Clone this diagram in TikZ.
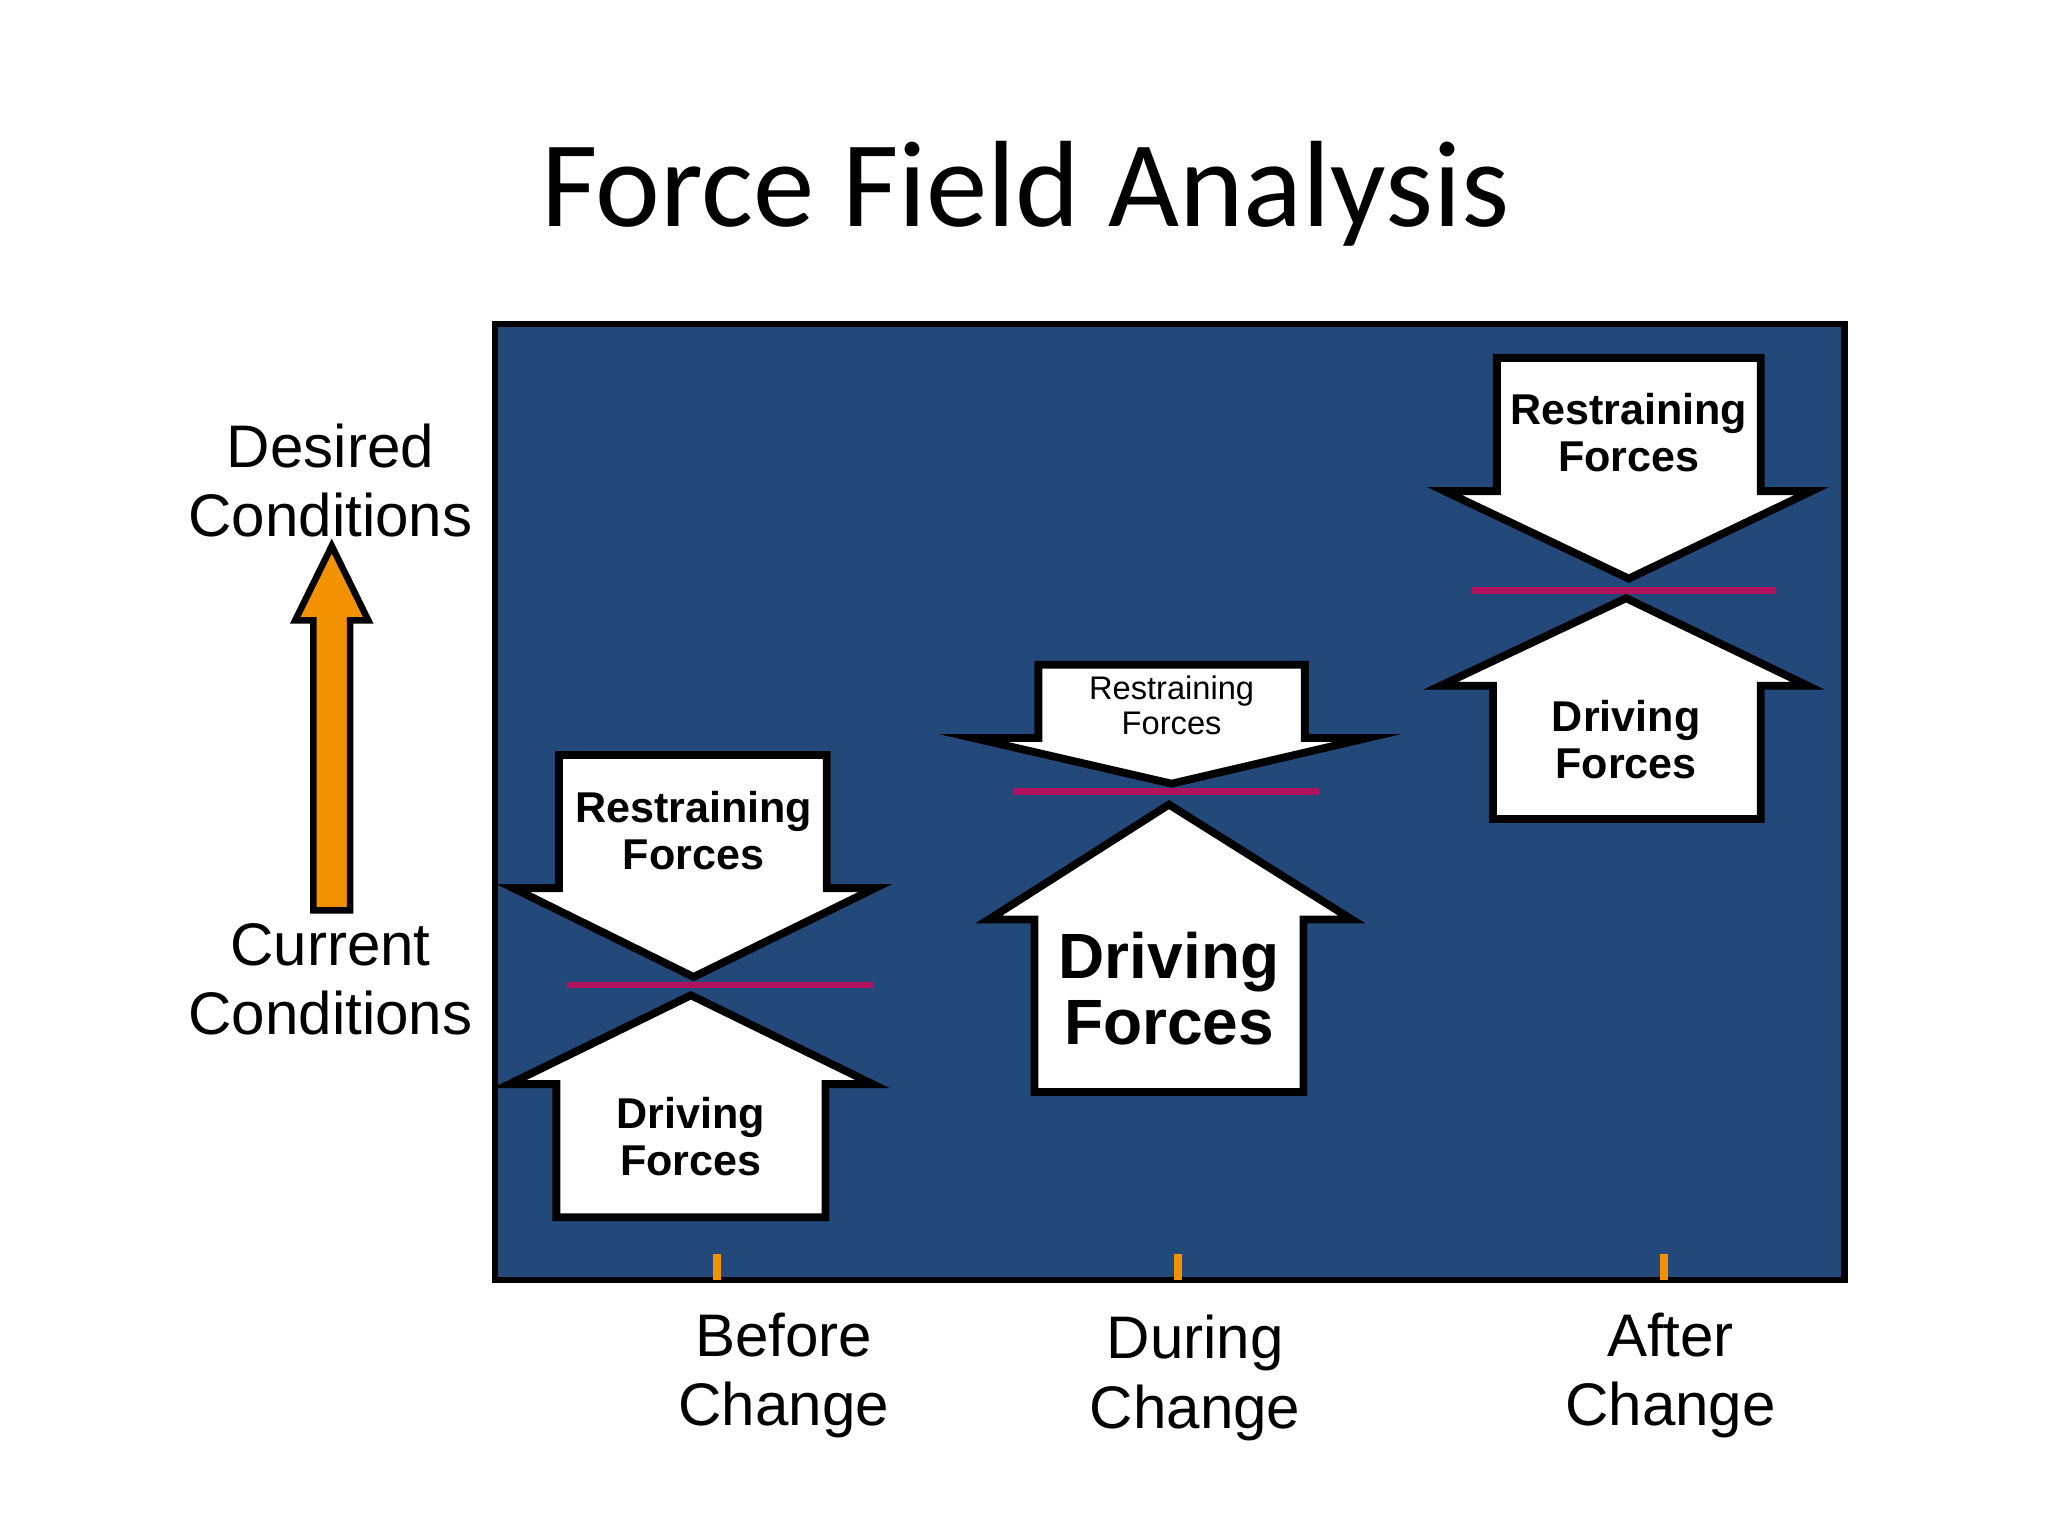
\documentclass[tikz,border=0pt]{standalone}
\usepackage{fontspec}
\setmainfont{Liberation Sans}
\newfontfamily\titlefont{Carlito}
\definecolor{panel}{HTML}{23497B}
\definecolor{orng}{HTML}{F39200}
\definecolor{mag}{HTML}{B0125E}
\begin{document}
\begin{tikzpicture}[x=0.5pt,y=-0.5pt,
  arr/.style={fill=white,draw=black,line width=3pt,line join=miter},
  eq/.style={draw=mag,line width=2.5pt},
  tick/.style={draw=orng,line width=3pt},
  lbl/.style={align=center,font=\fontsize{23}{26.5}\selectfont,inner sep=0pt},
  af/.style={align=center,font=\bfseries\fontsize{16.5}{18}\selectfont,inner sep=0pt}]
\useasboundingbox (0,0) rectangle (1568,1176);
\node[font=\titlefont\fontsize{47}{50}\selectfont] (title) at (785,148) {Force Field Analysis};
\draw[fill=panel,draw=black,line width=2.5pt] (379,248) rectangle (1412,980);
% Before
\draw[arr] (428,578)--(633,578)--(633,680)--(670,680)--(531,748)--(393,680)--(428,680)--cycle;
\draw[arr] (529,762)--(668,830)--(632,830)--(632,932)--(426,932)--(426,830)--(390,830)--cycle;
\draw[eq] (434,754)--(668,754);
\node[af] (r1) at (531,636) {Restraining\\Forces};
\node[af] (d1) at (529,870) {Driving\\Forces};
% During
\draw[arr] (795,509)--(999,509)--(999,565)--(1047,565)--(897,600)--(745,565)--(795,565)--cycle;
\draw[arr] (895,616)--(1035,704)--(998,704)--(998,836)--(792,836)--(792,704)--(757,704)--cycle;
\draw[eq] (776,606)--(1010,606);
\node[align=center,font=\fontsize{12.5}{13.5}\selectfont,inner sep=0pt] (r2) at (897,540) {Restraining\\Forces};
\node[align=center,font=\bfseries\fontsize{24.5}{25}\selectfont,inner sep=0pt] (d2) at (895,757) {Driving\\Forces};
% After
\draw[arr] (1146,274)--(1348,274)--(1348,376)--(1387,376)--(1247,443)--(1106,376)--(1146,376)--cycle;
\draw[arr] (1245,458)--(1384,525)--(1348,525)--(1348,627)--(1143,627)--(1143,525)--(1103,525)--cycle;
\draw[eq] (1127,452)--(1360,452);
\node[af] (r3) at (1247,331) {Restraining\\Forces};
\node[af] (d3) at (1245,566) {Driving\\Forces};
% ticks
\draw[tick] (549,960)--(549,980);
\draw[tick] (902,960)--(902,980);
\draw[tick] (1274,960)--(1274,980);
\node[lbl] (b) at (600,1053) {Before\\Change};
\node[lbl] (du) at (915,1055) {During\\Change};
\node[lbl] (af) at (1279,1053) {After\\Change};
\node[lbl] (des) at (253,368) {Desired\\Conditions};
\node[lbl] (cur) at (253,750) {Current\\Conditions};
\draw[fill=orng,draw=black,line width=2.5pt] (240,697)--(240,475)--(226,475)--(254,418)--(282,475)--(268,475)--(268,697)--cycle;
\end{tikzpicture}
\end{document}
